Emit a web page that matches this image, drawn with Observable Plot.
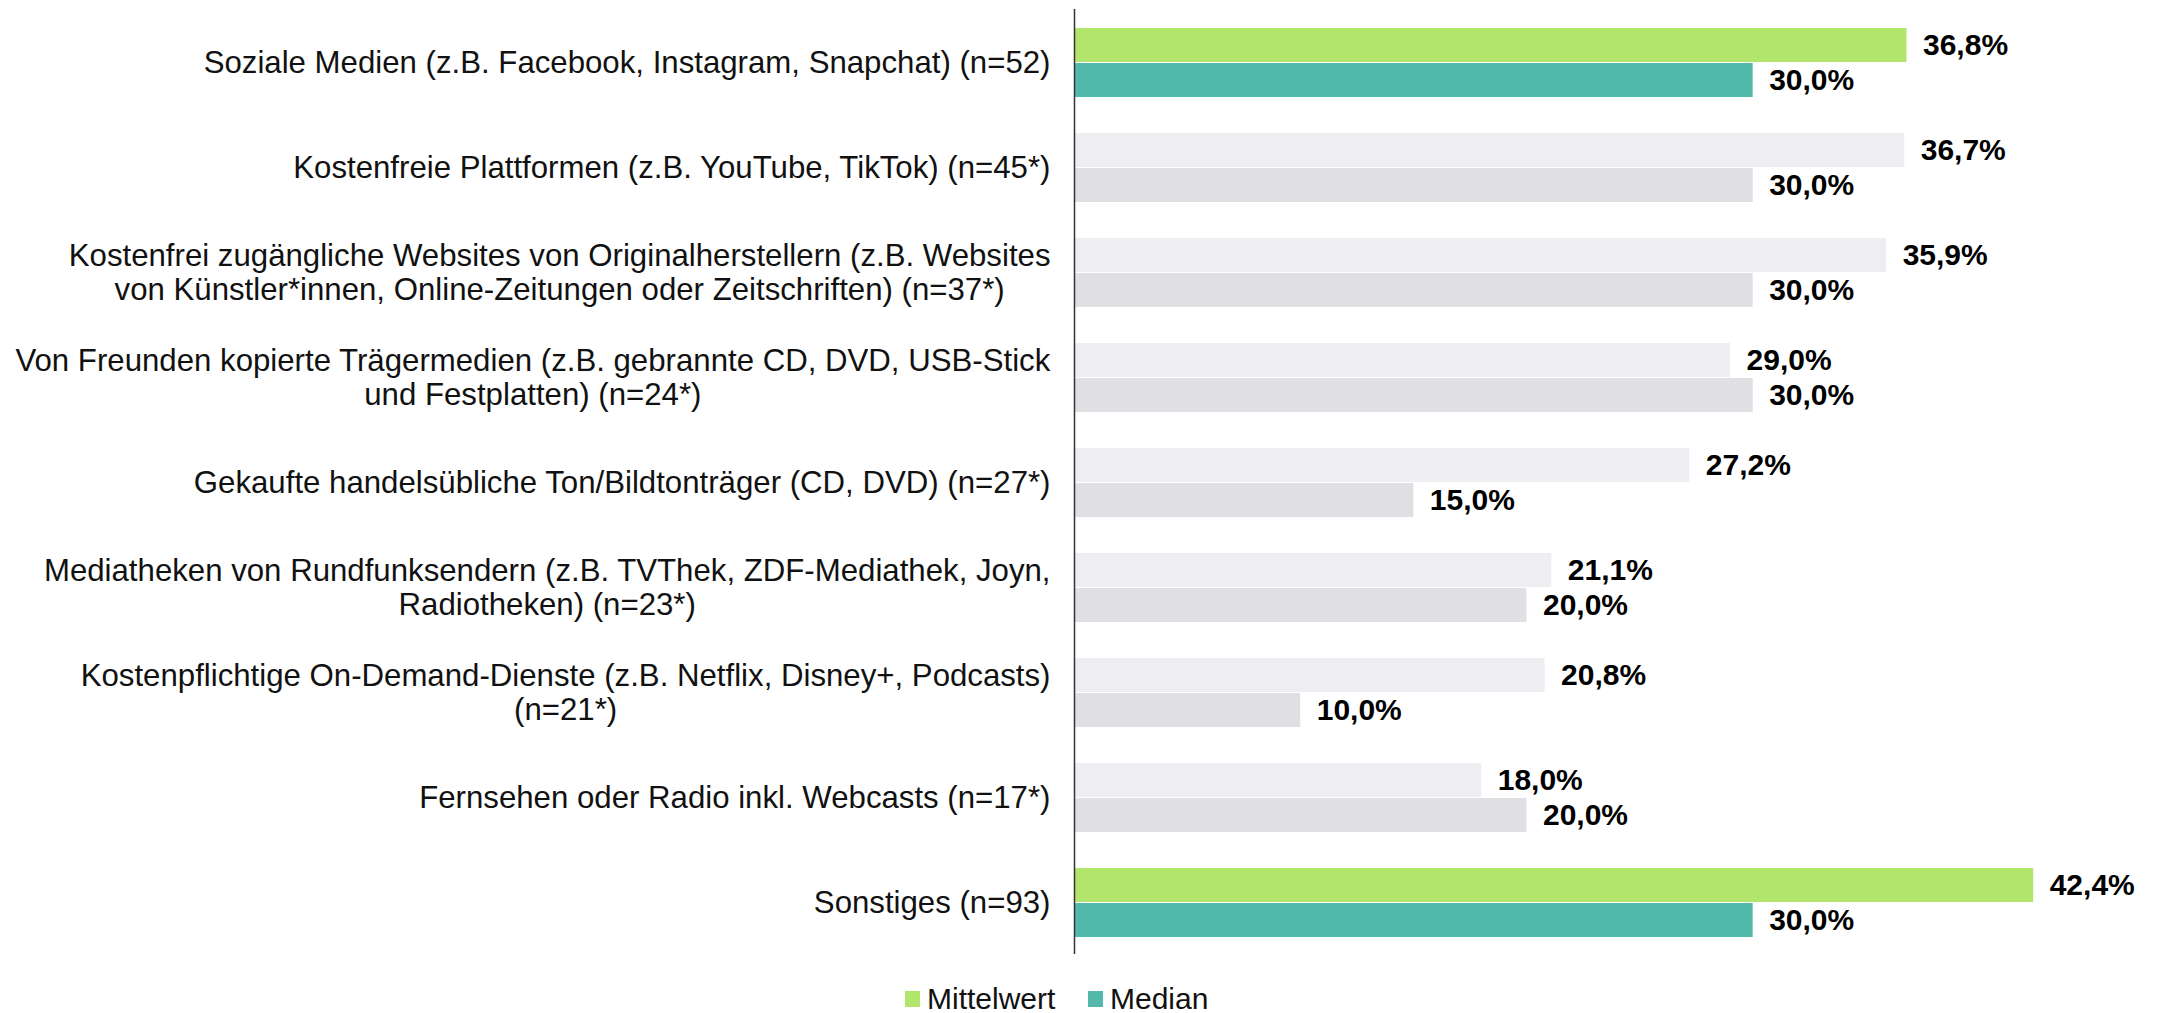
<!DOCTYPE html>
<html>
<head>
<meta charset="utf-8">
<script src="https://cdn.jsdelivr.net/npm/d3@7"></script>
<script src="https://cdn.jsdelivr.net/npm/@observablehq/plot@0.6"></script>
<style>
  html, body { margin: 0; padding: 0; background: #fff; }
  body { width: 2162px; height: 1013px; overflow: hidden; font-family: "Liberation Sans", Arial, sans-serif; }
  #legend { position: relative; height: 48px; }
  .li { position: absolute; top: 18px; display: flex; align-items: center; font-size: 30px; color: #111; line-height: 32px; }
  .sw { width: 15px; height: 16px; margin-right: 7px; }
</style>
</head>
<body>
<div id="chart"></div>
<div id="legend"></div>
<script>
const categories = [
  "Soziale Medien (z.B. Facebook, Instagram, Snapchat) (n=52)",
  "Kostenfreie Plattformen (z.B. YouTube, TikTok) (n=45*)",
  "Kostenfrei zugängliche Websites von Originalherstellern (z.B. Websites\nvon Künstler*innen, Online-Zeitungen oder Zeitschriften) (n=37*)",
  "Von Freunden kopierte Trägermedien (z.B. gebrannte CD, DVD, USB-Stick\nund Festplatten) (n=24*)",
  "Gekaufte handelsübliche Ton/Bildtonträger (CD, DVD) (n=27*)",
  "Mediatheken von Rundfunksendern (z.B. TVThek, ZDF-Mediathek, Joyn,\nRadiotheken) (n=23*)",
  "Kostenpflichtige On-Demand-Dienste (z.B. Netflix, Disney+, Podcasts)\n(n=21*)",
  "Fernsehen oder Radio inkl. Webcasts (n=17*)",
  "Sonstiges (n=93)"
];
const mittelwert = [36.8, 36.7, 35.9, 29.0, 27.2, 21.1, 20.8, 18.0, 42.4];
const median = [30.0, 30.0, 30.0, 30.0, 15.0, 20.0, 10.0, 20.0, 30.0];
const seriesNames = ["Mittelwert", "Median"];
const highlighted = [categories[0], categories[8]];

const colors = {
  Mittelwert: { hi: "#B2E56B", lo: "#EDEDF2" },
  Median: { hi: "#52B9AB", lo: "#DFDFE4" }
};

const rows = [];
categories.forEach((c, i) => {
  rows.push({ cat: c, series: "Mittelwert", value: mittelwert[i] });
  rows.push({ cat: c, series: "Median", value: median[i] });
});
const fillOf = d => highlighted.includes(d.cat) ? colors[d.series].hi : colors[d.series].lo;
const fmt = v => v.toFixed(1).replace(".", ",") + "%";

const plot = Plot.plot({
  width: 2162,
  height: 965,
  marginLeft: 1074,
  marginRight: 70,
  marginTop: 5,
  marginBottom: 8,
  style: { fontFamily: "'Liberation Sans', Arial, sans-serif", color: "#000", background: "#fff" },
  fy: { domain: categories, padding: 0, axis: null },
  y: { domain: seriesNames, axis: null, paddingInner: 0, paddingOuter: 0.467 },
  x: { domain: [0, 45], axis: null },
  color: { type: "identity" },
  marks: [
    Plot.barX(rows, { fy: "cat", y: "series", x: "value", fill: fillOf, insetTop: 1, insetBottom: 0 }),
    Plot.text(rows, { fy: "cat", y: "series", x: "value", text: d => fmt(d.value), textAnchor: "start", dx: 16, fontSize: 30, fontWeight: "bold", fill: "#000" }),
    Plot.text(categories, { fy: d => d, x: 0, text: d => d, textAnchor: "end", dx: -24, fontSize: 31.2, lineHeight: 1.11, fill: "#111", className: "catlab" }),
    Plot.ruleX([0], { stroke: "#333", strokeWidth: 1.5 })
  ]
});
document.getElementById("chart").appendChild(plot);

// center lines of multi-line labels within their right-aligned block
plot.querySelectorAll(".catlab text").forEach(t => {
  if (t.querySelectorAll("tspan").length > 1) {
    const w = t.getBBox().width;
    t.setAttribute("text-anchor", "middle");
    const tr = t.getAttribute("transform") || "";
    t.setAttribute("transform", tr + ` translate(${-w / 2},0)`);
  }
});

const legend = document.getElementById("legend");
const legendLeft = { Mittelwert: 905, Median: 1088 };
seriesNames.forEach(s => {
  const item = document.createElement("div");
  item.className = "li";
  item.style.left = legendLeft[s] + "px";
  const sw = document.createElement("span");
  sw.className = "sw";
  sw.style.background = colors[s].hi;
  const lab = document.createElement("span");
  lab.textContent = s;
  item.appendChild(sw);
  item.appendChild(lab);
  legend.appendChild(item);
});
</script>
</body>
</html>
